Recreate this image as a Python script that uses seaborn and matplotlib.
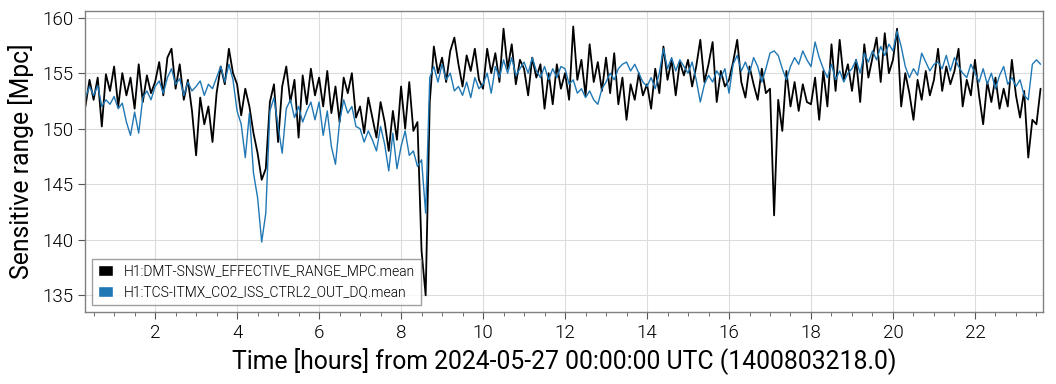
import numpy as np
import pandas as pd
import matplotlib
matplotlib.use("Agg")
import matplotlib.pyplot as plt
from matplotlib.patches import Patch
from matplotlib.ticker import MultipleLocator
import seaborn as sns

# channels and reference epoch
chan_range = "H1:DMT-SNSW_EFFECTIVE_RANGE_MPC.mean"
chan_co2 = "H1:TCS-ITMX_CO2_ISS_CTRL2_OUT_DQ.mean"
epoch_label = "2024-05-27 00:00:00 UTC (1400803218.0)"

# samples every 0.1 h starting at 0.3 h
start_hour = 0.3
step_hour = 0.1

range_mpc = [
    152.0, 154.4, 152.6, 154.6, 150.2, 154.9, 153.4,
    155.6, 152.0, 155.0, 153.0, 154.6, 151.8, 155.8, 152.4, 154.8, 153.2,
    154.2, 156.0, 153.0, 156.4, 157.2, 153.6, 155.8, 152.6, 154.4, 151.6,
    147.6, 152.8, 150.4, 152.0, 148.8, 153.2, 155.6, 154.0, 157.2, 155.0,
    154.0, 151.2, 153.6, 152.0, 149.6, 147.8, 145.4, 146.4, 152.4, 154.0,
    148.8, 153.8, 155.6, 152.4, 154.4, 149.2, 154.8, 152.2, 155.4, 153.0,
    154.6, 152.0, 155.2, 151.4, 153.8, 150.6, 154.6, 153.2, 155.0, 151.0,
    152.0, 149.6, 152.8, 151.0, 149.2, 152.4, 150.6, 148.0, 151.6, 149.0,
    153.8, 150.0, 154.2, 149.8, 150.6, 139.0, 135.0, 152.4, 157.4, 155.0,
    156.4, 154.2, 157.0, 158.2, 155.8, 153.8, 156.6, 155.2, 157.2, 154.4,
    153.6, 157.2, 155.0, 156.8, 154.2, 159.0, 155.4, 157.6, 154.0, 156.2,
    155.4, 153.0, 156.4, 154.6, 155.8, 151.8, 155.0, 152.2, 155.8, 153.6,
    155.0, 152.6, 159.2, 154.4, 156.2, 153.0, 157.6, 154.2, 156.0, 153.4,
    156.4, 153.2, 156.8, 152.2, 154.6, 150.8, 154.0, 152.6, 155.0, 153.0,
    154.0, 151.8, 155.4, 153.2, 157.4, 154.4, 156.2, 153.0, 156.0, 154.8,
    156.2, 153.8, 155.6, 158.0, 154.2, 155.8, 157.8, 152.4, 155.2, 153.8,
    154.4, 156.0, 158.0, 154.2, 152.8, 155.6, 154.0, 152.6, 155.4, 153.2,
    153.6, 142.2, 152.6, 149.8, 155.2, 152.0, 154.2, 151.6, 154.0, 152.4,
    152.2, 154.6, 150.8, 155.2, 152.0, 157.6, 153.4, 158.0, 154.4, 155.8,
    153.4, 156.2, 152.4, 157.6, 154.6, 156.4, 158.2, 154.2, 158.6, 155.0,
    156.2, 159.0, 152.0, 155.0, 153.2, 150.8, 154.4, 152.6, 155.2, 153.0,
    154.4, 157.2, 153.4, 155.6, 154.0, 155.2, 157.2, 152.0, 154.4, 153.0,
    156.2, 153.0, 150.4, 154.2, 152.4, 154.6, 151.8, 153.6, 152.0, 156.2,
    153.0, 151.0, 153.4, 147.4, 150.8, 150.4, 153.6,
]

co2_scaled = [
    152.8, 153.8, 153.0, 153.9, 152.0, 152.6, 152.2,
    152.9, 151.8, 152.3, 150.6, 149.4, 151.5, 149.6, 152.8, 153.4, 152.6,
    153.8, 154.3, 153.2, 154.6, 155.4, 154.0, 154.5, 153.0, 154.2, 153.4,
    153.8, 154.3, 153.0, 154.0, 153.6, 154.6, 155.6, 154.2, 155.8, 154.4,
    151.6, 150.4, 147.4, 151.4, 146.0, 143.8, 139.8, 142.4, 151.6, 152.8,
    150.2, 147.8, 151.8, 152.6, 151.0, 152.0, 150.6, 151.6, 152.4, 150.8,
    152.4, 149.4, 151.6, 148.4, 146.8, 150.6, 152.6, 151.4, 152.0, 150.2,
    150.0, 148.8, 149.8, 149.0, 148.0, 150.2, 148.6, 146.2, 149.6, 146.4,
    148.4, 149.8, 147.6, 148.0, 146.6, 147.2, 142.4, 154.6, 155.6, 154.2,
    155.8, 154.4, 155.0, 153.4, 153.8, 153.0, 154.2, 152.8, 154.6, 153.6,
    154.0, 155.0, 153.2, 155.6, 154.6, 156.2, 155.0, 156.4, 154.8, 155.4,
    156.0, 155.0, 156.4, 155.2, 154.6, 155.6, 154.4, 155.4, 154.6, 155.6,
    155.4, 154.0, 154.4, 153.2, 153.6, 152.8, 153.4, 152.6, 152.2, 153.6,
    154.2, 155.0, 154.4, 155.4, 155.8, 156.0, 155.2, 155.8, 155.0, 154.2,
    153.8, 154.6, 153.6, 155.0, 157.2, 155.4, 156.4, 155.2, 156.2, 155.6,
    155.0, 156.0, 154.4, 152.4, 154.0, 154.8, 154.2, 155.2, 154.6, 155.4,
    153.2, 155.8, 156.6, 155.2, 156.0, 155.0, 156.4, 155.6, 154.2, 155.4,
    156.8, 157.0, 156.6, 155.4, 154.4, 155.6, 156.4, 155.8, 157.0, 156.2,
    155.6, 157.8, 156.4, 155.4, 154.6, 155.8, 154.4, 155.2, 154.2, 155.0,
    155.4, 156.2, 155.0, 156.8, 156.0, 157.0, 156.2, 157.4, 156.6, 157.6,
    157.0, 158.8, 157.4, 155.6, 154.6, 155.4, 154.8, 156.8, 156.0, 155.2,
    155.8, 156.0, 155.4, 156.6, 155.2, 156.4, 155.6, 155.0, 154.6, 155.8,
    155.0, 154.2, 155.4, 154.0, 155.0, 153.6, 154.8, 155.6, 154.0, 154.6,
    153.8, 154.4, 153.0, 152.6, 155.8, 156.2, 155.8,
]

n = len(range_mpc)
hours = start_hour + step_hour * np.arange(n)
dados = pd.DataFrame({
    "hours": np.concatenate([hours, hours]),
    "value": range_mpc + co2_scaled,
    "channel": [chan_range] * n + [chan_co2] * n,
})

cores = {chan_range: "black", chan_co2: "#1f77b4"}

sns.set_style("ticks")
plt.rcParams["font.family"] = ["Roboto", "DejaVu Sans"]
plt.rcParams["font.weight"] = 300
plt.rcParams["text.color"] = "black"
plt.rcParams["axes.labelcolor"] = "black"
plt.rcParams["xtick.labelcolor"] = "black"
plt.rcParams["ytick.labelcolor"] = "black"

fig = plt.figure(figsize=(10.56, 3.84), dpi=100)
ax = fig.add_axes([0.0805, 0.1875, 0.9072, 0.784])
sns.lineplot(data=dados, x="hours", y="value", hue="channel", palette=cores,
             estimator=None, sort=False, legend=False, ax=ax)
ax.lines[0].set_linewidth(1.3)
ax.lines[1].set_linewidth(1.0)

ax.set_xlim(0.29, 23.66)
ax.set_ylim(133.5, 160.6)
ax.xaxis.set_major_locator(MultipleLocator(2))
ax.xaxis.set_minor_locator(MultipleLocator(0.5))
ax.yaxis.set_major_locator(MultipleLocator(5))
ax.grid(True, which="major", color="#dcdcdc", linewidth=0.8)
ax.set_axisbelow(True)
for s in ax.spines.values():
    s.set_color("#808080")
    s.set_linewidth(1.0)
ax.tick_params(axis="both", which="major", labelsize=13.5, length=5,
               color="#555555", labelcolor="black")
ax.tick_params(axis="x", which="minor", length=3, color="#555555")

ax.set_xlabel("Time [hours] from " + epoch_label, fontsize=17.8, labelpad=4,
              color="black")
ax.set_ylabel("Sensitive range [Mpc]", fontsize=17.8, labelpad=6, color="black")

handles = [Patch(facecolor=cores[chan_range], label=chan_range),
           Patch(facecolor=cores[chan_co2], label=chan_co2)]
leg = ax.legend(handles=handles, loc="lower left", fontsize=10, fancybox=False,
                edgecolor="#888888", handlelength=1.1, handleheight=0.8,
                borderaxespad=0.5, labelcolor="black")
leg.get_frame().set_linewidth(1.0)

fig.savefig("out.png", dpi=100)
